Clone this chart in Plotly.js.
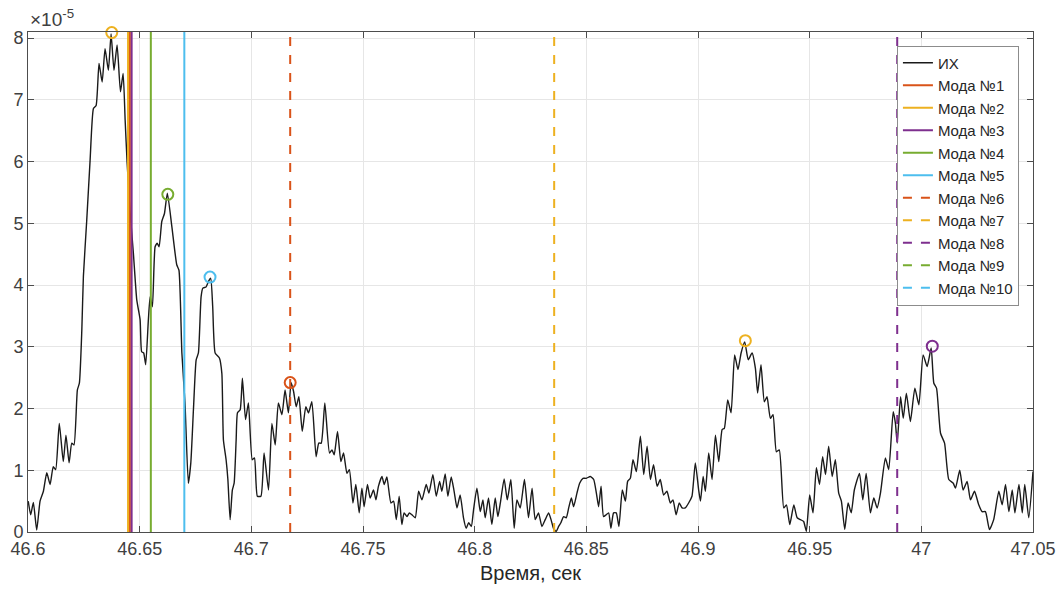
<!DOCTYPE html>
<html>
<head>
<meta charset="utf-8">
<script src="https://cdn.plot.ly/plotly-3.0.1.min.js"></script>
<style>
html,body{margin:0;padding:0;background:#fff;}
#chart{width:1062px;height:589px;}
</style>
</head>
<body>
<div id="chart"></div>
<script>
// ---- data ----
const timeSec = [
46.6001,46.6012,46.6024,46.6039,46.6054,46.6069,46.6084,46.6099,46.6113,46.6124,
46.6140,46.6158,46.6170,46.6184,46.6196,46.6206,46.6221,46.6230,46.6241,46.6248,
46.6263,46.6278,46.6293,46.6305,46.6318,46.6332,46.6345,46.6360,46.6372,46.6385,
46.6399,46.6414,46.6426,46.6435,46.6444,46.6457,46.6472,46.6487,46.6502,46.6509,
46.6518,46.6527,46.6539,46.6547,46.6557,46.6569,46.6578,46.6587,46.6599,46.6611,
46.6624,46.6644,46.6666,46.6676,46.6689,46.6703,46.6718,46.6729,46.6741,46.6753,
46.6763,46.6775,46.6783,46.6797,46.6808,46.6818,46.6827,46.6838,46.6857,46.6868,
46.6875,46.6887,46.6895,46.6905,46.6915,46.6923,46.6932,46.6938,46.6950,46.6960,
46.6974,46.6987,46.7004,46.7014,46.7027,46.7043,46.7057,46.7077,46.7092,46.7107,
46.7121,46.7137,46.7151,46.7166,46.7178,46.7189,46.7201,46.7213,46.7228,46.7244,
46.7256,46.7271,46.7290,46.7302,46.7313,46.7329,46.7350,46.7361,46.7371,46.7386,
46.7401,46.7413,46.7428,46.7439,46.7455,46.7468,46.7483,46.7495,46.7505,46.7520,
46.7532,46.7547,46.7558,46.7569,46.7585,46.7595,46.7607,46.7625,46.7637,46.7649,
46.7662,46.7674,46.7684,46.7697,46.7708,46.7719,46.7734,46.7749,46.7764,46.7783,
46.7795,46.7813,46.7828,46.7843,46.7853,46.7868,46.7880,46.7895,46.7908,46.7921,
46.7935,46.7950,46.7962,46.7973,46.7985,46.7995,46.8010,46.8025,46.8037,46.8047,
46.8062,46.8077,46.8092,46.8104,46.8115,46.8132,46.8146,46.8162,46.8177,46.8189,
46.8204,46.8223,46.8241,46.8257,46.8271,46.8286,46.8301,46.8316,46.8331,46.8342,
46.8353,46.8365,46.8376,46.8386,46.8398,46.8410,46.8421,46.8433,46.8443,46.8458,
46.8470,46.8485,46.8500,46.8518,46.8533,46.8545,46.8555,46.8566,46.8577,46.8589,
46.8600,46.8610,46.8622,46.8634,46.8646,46.8661,46.8675,46.8685,46.8697,46.8709,
46.8724,46.8742,46.8757,46.8772,46.8787,46.8801,46.8817,46.8831,46.8846,46.8861,
46.8876,46.8888,46.8902,46.8916,46.8929,46.8943,46.8958,46.8973,46.8988,46.9003,
46.9011,46.9023,46.9033,46.9048,46.9063,46.9078,46.9093,46.9108,46.9118,46.9133,
46.9148,46.9164,46.9179,46.9193,46.9209,46.9225,46.9242,46.9257,46.9267,46.9282,
46.9297,46.9309,46.9324,46.9336,46.9351,46.9364,46.9384,46.9396,46.9411,46.9429,
46.9444,46.9459,46.9473,46.9485,46.9500,46.9515,46.9530,46.9544,46.9558,46.9571,
46.9585,46.9601,46.9615,46.9630,46.9642,46.9657,46.9672,46.9686,46.9700,46.9723,
46.9738,46.9753,46.9772,46.9787,46.9802,46.9817,46.9839,46.9854,46.9874,46.9884,
46.9892,46.9907,46.9919,46.9933,46.9951,46.9971,46.9989,47.0008,47.0026,47.0044,
47.0056,47.0068,47.0086,47.0104,47.0123,47.0143,47.0153,47.0172,47.0187,47.0205,
47.0220,47.0238,47.0257,47.0272,47.0287,47.0305,47.0324,47.0347,47.0362,47.0377,
47.0392,47.0407,47.0419,47.0437,47.0452,47.0463,47.0481,47.0500
];
// impulse response, units of 1e-5
const ihVal = [
0.50,0.28,0.48,0.03,0.50,0.66,0.96,0.77,1.06,1.01,
1.76,1.14,1.57,1.12,1.44,1.41,2.30,2.41,3.27,4.14,
5.05,6.02,6.86,6.91,7.59,7.29,7.83,7.48,8.07,7.48,
7.89,7.13,7.43,6.67,5.97,5.20,4.51,3.76,3.44,2.92,
2.90,2.71,3.44,3.81,3.65,4.62,4.68,4.62,5.03,5.16,
5.49,4.95,4.33,4.24,2.90,2.09,0.79,1.12,2.00,2.79,
2.90,3.81,3.95,3.97,4.06,4.11,3.65,2.90,2.82,2.57,
1.49,1.17,0.85,0.20,0.68,0.79,1.49,1.93,1.98,2.49,
1.82,2.09,1.17,1.20,0.58,0.58,1.28,0.68,1.76,1.41,
2.09,1.90,2.30,1.93,2.42,2.28,2.03,2.19,1.63,2.03,
1.93,2.11,1.22,1.44,1.44,2.09,1.28,1.33,1.25,1.63,
1.14,1.28,0.95,1.01,0.47,0.77,0.31,0.71,0.41,0.77,
0.55,0.68,0.52,0.74,0.90,0.77,0.89,0.47,0.50,0.20,
0.58,0.12,0.31,0.25,0.31,0.28,0.23,0.66,0.52,0.77,
0.63,0.93,0.58,0.82,0.66,0.94,0.58,0.89,0.66,0.39,
0.60,0.23,0.06,0.15,0.09,0.36,0.71,0.33,0.52,0.23,
0.55,0.12,0.55,0.25,0.47,0.86,0.52,0.85,0.06,0.52,
0.39,0.85,0.23,0.71,0.20,0.31,0.09,0.20,0.31,0.20,
0.06,0.01,0.09,0.15,0.25,0.23,0.39,0.55,0.41,0.63,
0.79,0.87,0.87,0.90,0.85,0.63,0.41,0.74,0.25,0.28,
0.31,0.06,0.31,0.31,0.09,0.68,0.50,0.82,0.87,1.17,
0.98,1.55,0.93,1.39,0.85,1.09,0.74,0.85,0.60,0.66,
0.47,0.52,0.28,0.47,0.39,0.39,0.47,0.58,1.12,0.68,
0.50,0.90,0.66,1.28,0.85,1.57,1.14,1.66,1.68,2.14,
1.93,2.87,2.63,2.90,3.08,2.79,2.90,2.65,2.25,2.71,
2.11,2.19,1.84,1.90,1.30,1.33,0.39,0.44,0.12,0.44,
0.23,0.20,0.17,0.01,0.60,0.31,1.04,0.77,1.22,0.93,
1.39,0.90,1.17,0.63,0.50,0.04,0.47,0.31,0.68,0.95,
0.52,0.95,0.31,0.55,0.39,0.63,1.20,1.01,1.95,1.76,
1.44,2.19,1.84,2.25,1.79,2.33,2.06,2.87,2.68,2.98,
2.41,2.33,1.60,1.44,0.85,0.79,0.71,1.00,0.68,0.82,
0.52,0.66,0.44,0.33,0.33,0.04,0.20,0.66,0.44,0.77,
0.33,0.68,0.31,0.77,0.31,0.77,0.23,0.98
];
const modeNames = ["Мода №1","Мода №2","Мода №3","Мода №4","Мода №5","Мода №6","Мода №7","Мода №8","Мода №9","Мода №10"];
const modeTime = [46.6456,46.6448,46.6464,46.6550,46.6700,46.7174,46.8356,46.9892,47.12,47.16];
const peakTime = [null,46.6375,null,46.6626,46.6815,46.7174,46.9212,47.0049,null,null];
const peakVal  = [null,8.09,null,5.47,4.13,2.42,3.10,3.01,null,null];
const xTickVals = [46.6,46.65,46.7,46.75,46.8,46.85,46.9,46.95,47,47.05];
const xTickText = ["46.6","46.65","46.7","46.75","46.8","46.85","46.9","46.95","47","47.05"];
const yTickVals = [0,1,2,3,4,5,6,7,8];
const yTickText = ["0","1","2","3","4","5","6","7","8"];

// ---- styles ----
const modeColors = ["#D95319","#EDB120","#7E2F8E","#77AC30","#4DBEEE","#D95319","#EDB120","#7E2F8E","#77AC30","#4DBEEE"];
const yTop = 8.1;

const traces = [];
traces.push({
  x: timeSec, y: ihVal, type: 'scatter', mode: 'lines', name: 'ИХ',
  line: {color: '#1a1a1a', width: 1.4, shape: 'spline', smoothing: 0.5},
  hoverinfo: 'skip'
});
modeNames.forEach((nm, i) => {
  traces.push({
    x: [modeTime[i], modeTime[i]], y: [0, yTop], type: 'scatter', mode: 'lines', name: nm,
    line: {color: modeColors[i], width: 2, dash: i < 5 ? 'solid' : 'dash'}
  });
});
modeNames.forEach((nm, i) => {
  if (peakTime[i] === null) return;
  traces.push({
    x: [peakTime[i]], y: [peakVal[i]], type: 'scatter', mode: 'markers', showlegend: false,
    marker: {symbol: 'circle-open', size: 11, color: modeColors[i], line: {width: 2, color: modeColors[i]}},
    cliponaxis: false
  });
});

const fontFam = 'Liberation Sans, Arial, Helvetica, sans-serif';
const layout = {
  width: 1062, height: 589,
  margin: {l: 28, r: 29, t: 32, b: 57},
  paper_bgcolor: '#ffffff', plot_bgcolor: '#ffffff',
  font: {family: fontFam, color: '#262626', size: 18},
  showlegend: true,
  legend: {
    x: 0.986, y: 0.973, xanchor: 'right', yanchor: 'top',
    bgcolor: '#ffffff', bordercolor: '#8c8c8c', borderwidth: 1,
    font: {family: fontFam, size: 15, color: '#262626'},
    tracegroupgap: 0
  },
  xaxis: {
    range: [46.6, 47.05], tickvals: xTickVals, ticktext: xTickText,
    showgrid: true, gridcolor: '#e6e6e6', gridwidth: 1, zeroline: false,
    showline: true, linecolor: '#4d4d4d', linewidth: 1, mirror: 'allticks',
    ticks: 'inside', ticklen: 6, tickcolor: '#4d4d4d',
    tickfont: {family: fontFam, size: 18, color: '#404040'},
    title: {text: 'Время, сек', font: {family: fontFam, size: 20, color: '#262626'}, standoff: 8}
  },
  yaxis: {
    range: [0, yTop], tickvals: yTickVals, ticktext: yTickText,
    showgrid: true, gridcolor: '#e6e6e6', gridwidth: 1, zeroline: false,
    showline: true, linecolor: '#4d4d4d', linewidth: 1, mirror: 'allticks',
    ticks: 'inside', ticklen: 6, tickcolor: '#4d4d4d',
    tickfont: {family: fontFam, size: 18, color: '#404040'}
  },
  annotations: [{
    xref: 'paper', yref: 'paper', x: 0, y: 1, xanchor: 'left', yanchor: 'bottom',
    text: '×10<sup>-5</sup>', showarrow: false,
    font: {family: fontFam, size: 19, color: '#404040'}
  }]
};

Plotly.newPlot('chart', traces, layout, {staticPlot: true, displayModeBar: false});
</script>
</body>
</html>
